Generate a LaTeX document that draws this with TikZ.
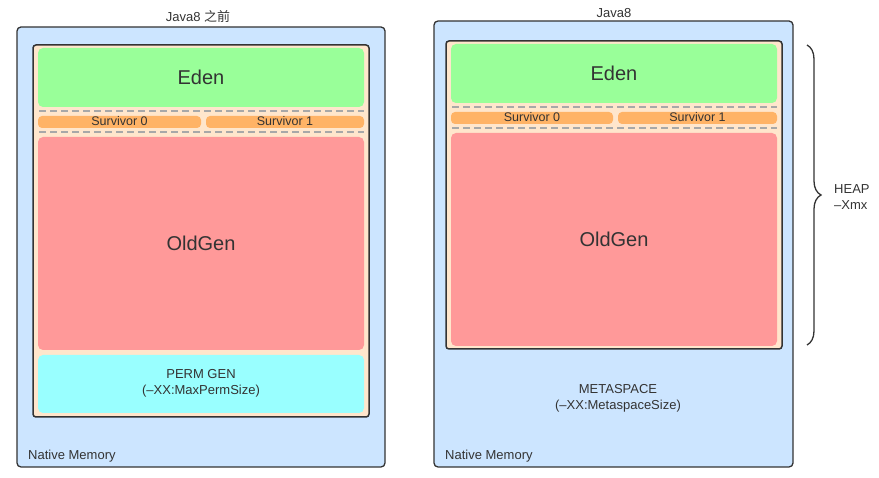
\documentclass[tikz,border=0pt]{standalone}
\usepackage{fontspec}
\setmainfont{Liberation Sans}
\newfontfamily\cjk{Noto Sans CJK SC}
\usetikzlibrary{decorations.pathreplacing}
\definecolor{outerblue}{HTML}{CCE5FF}
\definecolor{heapbg}{HTML}{FFE6CC}
\definecolor{edengreen}{HTML}{99FF99}
\definecolor{survorange}{HTML}{FFB366}
\definecolor{oldred}{HTML}{FF9999}
\definecolor{permcyan}{HTML}{99FFFF}
\definecolor{ink}{HTML}{333333}
\definecolor{dashgray}{HTML}{A8A8A8}
\tikzset{
  outerbox/.style={draw=ink, line width=1.3pt, fill=outerblue, rounded corners=4pt, inner sep=0pt},
  heapbox/.style={draw=ink, line width=1.5pt, fill=heapbg, rounded corners=3pt, inner sep=0pt},
  region/.style={fill=#1, rounded corners=5pt, inner sep=0pt, text=ink},
  survbox/.style={fill=survorange, rounded corners=4pt, inner sep=0pt, text=ink, text height=8pt, text depth=1pt, font=\fontsize{12.5}{13}\selectfont},
  bigtxt/.style={font=\fontsize{20}{22}\selectfont},
  lbl/.style={text=ink, inner sep=0pt, font=\fontsize{13}{16}\selectfont},
  sepline/.style={draw=dashgray, line width=1.3pt, dash pattern=on 7pt off 4pt},
}
\begin{document}
\begin{tikzpicture}[x=1pt,y=-1pt]
\useasboundingbox (0,0) rectangle (879,478);
% ---------- left: before Java8 ----------
\node[lbl] (titleL) at (198,17) {Java8 {\cjk 之前}};
\node[outerbox, minimum width=368pt, minimum height=440pt] (outerL) at (201,247) {};
\node[heapbox, minimum width=336pt, minimum height=372pt] (heapL) at (201,231) {};
\node[region=edengreen, minimum width=326pt, minimum height=59pt, bigtxt] (edenL) at (201,77.5) {Eden};
\coordinate (dL1a) at (39,111); \coordinate (dL1b) at (364,111);
\coordinate (dL2a) at (39,132); \coordinate (dL2b) at (364,132);
\draw[sepline] (dL1a) -- (dL1b);
\draw[sepline] (dL2a) -- (dL2b);
\node[survbox, minimum width=163pt, minimum height=12pt] (s0L) at (119.5,122) {Survivor 0};
\node[survbox, minimum width=158pt, minimum height=12pt] (s1L) at (285,122) {Survivor 1};
\node[region=oldred, minimum width=326pt, minimum height=213pt, bigtxt] (oldL) at (201,243.5) {OldGen};
\node[region=permcyan, minimum width=326pt, minimum height=58pt] (permL) at (201,384) {};
\node[lbl, align=center] (permtxt) at (201,383) {PERM GEN\\(–XX:MaxPermSize)};
\node[lbl, anchor=west] (nativeL) at (28,456) {Native Memory};
% ---------- right: Java8 ----------
\node[lbl] (titleR) at (614,13) {Java8};
\node[outerbox, minimum width=359pt, minimum height=446pt] (outerR) at (613.5,244) {};
\node[heapbox, minimum width=336pt, minimum height=308pt] (heapR) at (614,195) {};
\node[region=edengreen, minimum width=326pt, minimum height=59pt, bigtxt] (edenR) at (614,73.5) {Eden};
\coordinate (dR1a) at (452,107); \coordinate (dR1b) at (777,107);
\coordinate (dR2a) at (452,128); \coordinate (dR2b) at (777,128);
\draw[sepline] (dR1a) -- (dR1b);
\draw[sepline] (dR2a) -- (dR2b);
\node[survbox, minimum width=162pt, minimum height=12pt] (s0R) at (532,118) {Survivor 0};
\node[survbox, minimum width=159pt, minimum height=12pt] (s1R) at (697.5,118) {Survivor 1};
\node[region=oldred, minimum width=326pt, minimum height=213pt, bigtxt] (oldR) at (614,239.5) {OldGen};
\node[lbl, align=center] (metatxt) at (618,398) {METASPACE\\(–XX:MetaspaceSize)};
\node[lbl, anchor=west] (nativeR) at (445,456) {Native Memory};
% ---------- brace ----------
\coordinate (brTop) at (807,45);
\coordinate (brBot) at (807,345);
\draw[draw=ink, line width=1.3pt, decoration={brace, amplitude=14pt}, decorate] (brTop) -- (brBot);
\node[lbl, align=left, anchor=west] (heaptxt) at (834,197) {HEAP\\–Xmx};
\end{tikzpicture}
\end{document}
